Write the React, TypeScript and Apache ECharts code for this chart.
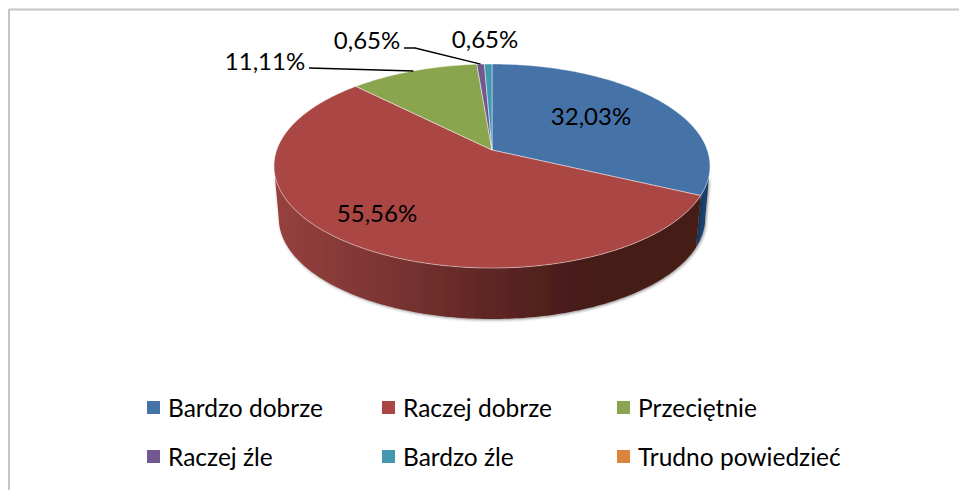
import React, { useEffect, useRef } from "react";
import * as echarts from "echarts";

const categories = ["Bardzo dobrze", "Raczej dobrze", "Przeciętnie", "Raczej źle", "Bardzo źle", "Trudno powiedzieć"];
const shares = [32.03, 55.56, 11.11, 0.65, 0.65, 0];
const topColors = ["#4572a7", "#aa4643", "#89a54e", "#71588f", "#4198af", "#db843d"];
const legendColumns = [
  [categories[0], categories[3]],
  [categories[1], categories[4]],
  [categories[2], categories[5]],
];

const FONT = "Lato, Carlito, Calibri, sans-serif";
const APEX_X = 492;
const APEX_Y = 150;
const RADIUS_X = 215.3;
const RADIUS_Y = 99.5;
const TILT = 0.157;
const MID_Y = 166;
const DEPTH = 52;
const BASE_SCALE_X = 0.978;
const BASE_SCALE_Y = 0.99;

const wallFills: any = [
  new echarts.graphic.LinearGradient(695, 0, 712, 0, [
    { offset: 0, color: "#1f4a7a" },
    { offset: 1, color: "#17375e" },
  ], true),
  new echarts.graphic.LinearGradient(274, 0, 710, 0, [
    { offset: 0, color: "#97413e" },
    { offset: 0.25, color: "#7c3533" },
    { offset: 0.5, color: "#5e2624" },
    { offset: 0.72, color: "#451b18" },
    { offset: 1, color: "#451b18" },
  ], true),
];

// label centre and, for outside labels, the leader's first points
const labelLayout: any[] = [
  { x: 591, y: 115 },
  { x: 377, y: 212 },
  { x: 265, y: 60, leader: [[309, 68]] },
  { x: 367, y: 39, leader: [[404, 48], [415, 48]] },
  { x: 485, y: 38 },
  null,
];

function project(percent: number): [number, number] {
  const a = (percent / 100) * Math.PI * 2;
  const u = Math.sin(a);
  const v = -Math.cos(a);
  const d = 1 - TILT * v;
  return [APEX_X + (RADIUS_X * u) / d, APEX_Y + (RADIUS_Y * v) / d];
}

function arc(from: number, to: number): [number, number][] {
  const pts: [number, number][] = [];
  const n = Math.max(2, Math.ceil((to - from) * 4));
  for (let i = 0; i <= n; i++) pts.push(project(from + ((to - from) * i) / n));
  return pts;
}

function starts(): number[] {
  let c = 0;
  return shares.map((s) => {
    const r = c;
    c += s;
    return r;
  });
}

function renderSlice(index: number) {
  return (_params: any, api: any) => {
    const value = api.value(0);
    const start = api.value(1);
    if (!value) return { type: "group", children: [] };
    const children: any[] = [];
    const rim = arc(start, start + value);
    const front = rim.filter((p) => p[1] >= MID_Y);
    if (front.length > 1) {
      const lower = front
        .map((p) => [
          APEX_X + (p[0] - APEX_X) * BASE_SCALE_X,
          MID_Y + (p[1] - MID_Y) * BASE_SCALE_Y + DEPTH,
        ])
        .reverse();
      children.push({
        type: "polygon",
        shape: { points: [...front, ...lower] },
        style: {
          fill: wallFills[index] || api.visual("color"),
          shadowBlur: 3,
          shadowOffsetX: 1,
          shadowOffsetY: 1,
          shadowColor: "rgba(0,0,0,0.45)",
        },
      });
    }
    children.push({
      type: "polygon",
      shape: { points: [[APEX_X, APEX_Y], ...rim] },
      style: { fill: api.visual("color"), stroke: "rgba(255,255,255,0.45)", lineWidth: 1 },
    });
    const layout = labelLayout[index];
    if (layout) {
      if (layout.leader) {
        children.push({
          type: "polyline",
          shape: { points: [...layout.leader, project(start + value / 2)] },
          style: { fill: "none", stroke: "#000", lineWidth: 1.5 },
          z2: 20,
        });
      }
      children.push({
        type: "text",
        x: layout.x,
        y: layout.y,
        z2: 30,
        style: {
          text: value.toFixed(2).replace(".", ",") + "%",
          fill: "#000",
          font: `24px ${FONT}`,
          textAlign: "center",
          textVerticalAlign: "middle",
        },
      });
    }
    return { type: "group", children };
  };
}

export default function App() {
  const ref = useRef<HTMLDivElement>(null);
  useEffect(() => {
    const chart = echarts.init(ref.current!, undefined, { renderer: "svg" });
    const offsets = starts();
    chart.setOption({
      animation: false,
      backgroundColor: "#fff",
      graphic: [
        { type: "line", shape: { x1: 9, y1: 9.5, x2: 959, y2: 9.5 }, style: { stroke: "#c6c6c6", lineWidth: 2 } },
        { type: "line", shape: { x1: 9, y1: 9, x2: 9, y2: 490 }, style: { stroke: "#c6c6c6", lineWidth: 2 } },
      ],
      legend: legendColumns.map((names, i) => ({
        data: names,
        orient: "vertical",
        left: [147, 382, 617][i],
        top: 395,
        padding: 0,
        itemWidth: 13,
        itemHeight: 13,
        itemGap: 24,
        icon: "rect",
        selectedMode: false,
        textStyle: { fontFamily: FONT, fontSize: 24.5, color: "#000", padding: [0, 0, 0, 3] },
      })),
      series: categories.map((name, i) => ({
        type: "custom",
        name,
        coordinateSystem: "none",
        silent: true,
        clip: false,
        itemStyle: { color: topColors[i] },
        renderItem: renderSlice(i),
        data: [[shares[i], offsets[i]]],
      })),
    });
    return () => chart.dispose();
  }, []);
  return <div ref={ref} style={{ position: "fixed", left: 0, top: 0, width: 959, height: 490 }} />;
}
